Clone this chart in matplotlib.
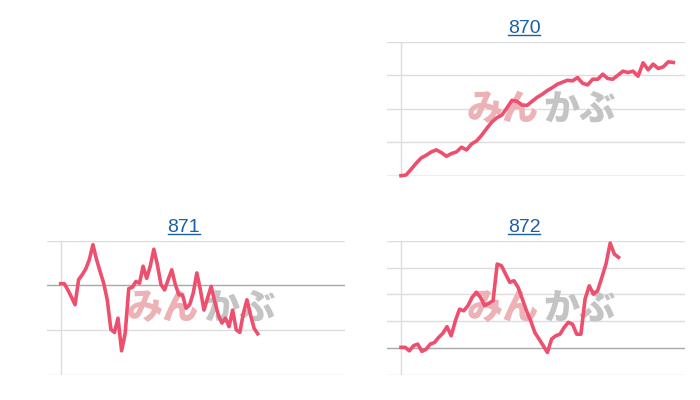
import matplotlib
matplotlib.use("Agg")
import matplotlib.pyplot as plt
from matplotlib.lines import Line2D
import numpy as np

# ---------------- data (return %) ----------------
codes = ["870", "871", "872"]

ret_870 = [0.0, 0.2, 1.9, 3.7, 5.3, 6.1, 7.1, 7.7, 6.9, 5.8, 6.6, 7.1, 8.5, 7.7,
           9.5, 10.4, 12.1, 14.1, 16.0, 17.3, 18.1, 20.2, 22.5, 22.2, 21.1, 21.0,
           22.2, 23.4, 24.3, 25.4, 26.3, 27.3, 27.9, 28.5, 28.3, 29.3, 27.6, 27.1,
           28.8, 28.8, 30.3, 29.0, 28.8, 30.0, 31.2, 30.8, 31.2, 29.7, 33.7, 31.6,
           33.3, 32.0, 32.5, 34.0, 33.8]

ret_871 = [0.4, 0.4, -1.0, -2.6, -4.3, 1.3, 2.4, 3.7, 5.8, 9.1, 5.8, 3.1, 0.5,
           -3.2, -9.8, -10.5, -7.3, -14.6, -10.7, -0.7, -0.4, 0.9, 0.5, 4.3, 1.6,
           4.3, 8.1, 4.6, 0.2, -1.0, 1.3, 3.5, 0.2, -2.1, -2.1, -5.1, -4.3, -1.7,
           2.8, -1.0, -5.5, -2.8, -0.2, -3.6, -6.6, -8.4, -7.3, -9.2, -5.5, -9.9,
           -10.5, -6.2, -3.2, -6.6, -9.6, -10.8]

ret_872 = [0.3, 0.3, -1.0, 0.9, 1.5, -1.2, -0.4, 1.5, 2.1, 4.0, 5.5, 8.0, 4.6,
           10.2, 14.5, 13.9, 15.8, 18.9, 20.8, 18.9, 15.8, 16.7, 17.6, 31.3, 30.7,
           27.6, 24.5, 25.1, 22.6, 18.3, 13.9, 10.2, 5.8, 3.4, 0.9, -1.6, 3.4, 4.6,
           5.2, 7.7, 9.6, 8.9, 5.2, 5.2, 18.3, 23.2, 20.1, 21.4, 26.3, 31.3, 39.1,
           35.0, 33.8]

grid_870 = [0, 10, 20, 30, 40]
grid_871 = [-20, -10, 0, 10]
grid_872 = [-10, 0, 10, 20, 30, 40]

series = [ret_870, ret_871, ret_872]
grids = [grid_870, grid_871, grid_872]

# ---------------- layout / style ----------------
W, H = 700, 400
# axes boxes in pixels: (left, top, right, bottom)
boxes = [(387, 41.7, 685, 175.7), (46.7, 240.7, 345, 375), (387, 240.7, 685, 375)]
end_frac = [0.959, 0.693, 0.766]   # where each series ends within the window
pad_frac = 42 / 853

LINE = "#ee4f6e"
TITLE = "#1b5fa6"

plt.rcParams["font.family"] = ["Liberation Sans", "DejaVu Sans"]
fig = plt.figure(figsize=(W / 100, H / 100), dpi=100)
fig.patch.set_facecolor("white")

titles = []
for code, vals, grid, box, ef in zip(codes, series, grids, boxes, end_frac):
    l, t, r, b = box
    ax = fig.add_axes([l / W, (H - b) / H, (r - l) / W, (b - t) / H])
    n = len(vals)
    x = np.arange(n)
    xmax = (n - 1) / ef
    ax.set_xlim(-xmax * pad_frac, xmax)
    ax.set_ylim(grid[0], grid[-1])
    for g in grid:
        ax.axhline(g, color="#a8a8a8" if g == 0 else "#dddddd", lw=1.0, zorder=0)
    ax.axvline(0, color="#dcdcdc", lw=1.0, zorder=0)
    ax.text(0.51, 0.5, "みん", transform=ax.transAxes, ha="right", va="center",
            fontsize=26, fontweight="black", color="#ecb2b6",
            family=["Noto Sans CJK JP", "DejaVu Sans"], zorder=1)
    ax.text(0.525, 0.5, "かぶ", transform=ax.transAxes, ha="left", va="center",
            fontsize=26, fontweight="black", color="#c4c4c4",
            family=["Noto Sans CJK JP", "DejaVu Sans"], zorder=1)
    ax.plot(x, vals, color=LINE, lw=2.6, solid_joinstyle="round", zorder=3,
            clip_on=False)
    ax.set_xticks([])
    ax.set_yticks([])
    for s in ax.spines.values():
        s.set_visible(False)
    ax.patch.set_alpha(0)
    tt = ax.annotate(code, xy=(0.46, 1.0), xycoords="axes fraction",
                     xytext=(0, 6.1), textcoords="offset points",
                     ha="center", va="baseline", fontsize=14, color=TITLE)
    titles.append((tt, H - t + 8.5))

fig.canvas.draw()
rend = fig.canvas.get_renderer()
for tt, base in titles:
    bb = tt.get_window_extent(rend)
    yy = (base - 1.5) / H
    fig.add_artist(Line2D([bb.x0 / W, bb.x1 / W], [yy, yy], transform=fig.transFigure,
                          color=TITLE, lw=1.0))

fig.savefig("out.png", dpi=100, facecolor="white")
